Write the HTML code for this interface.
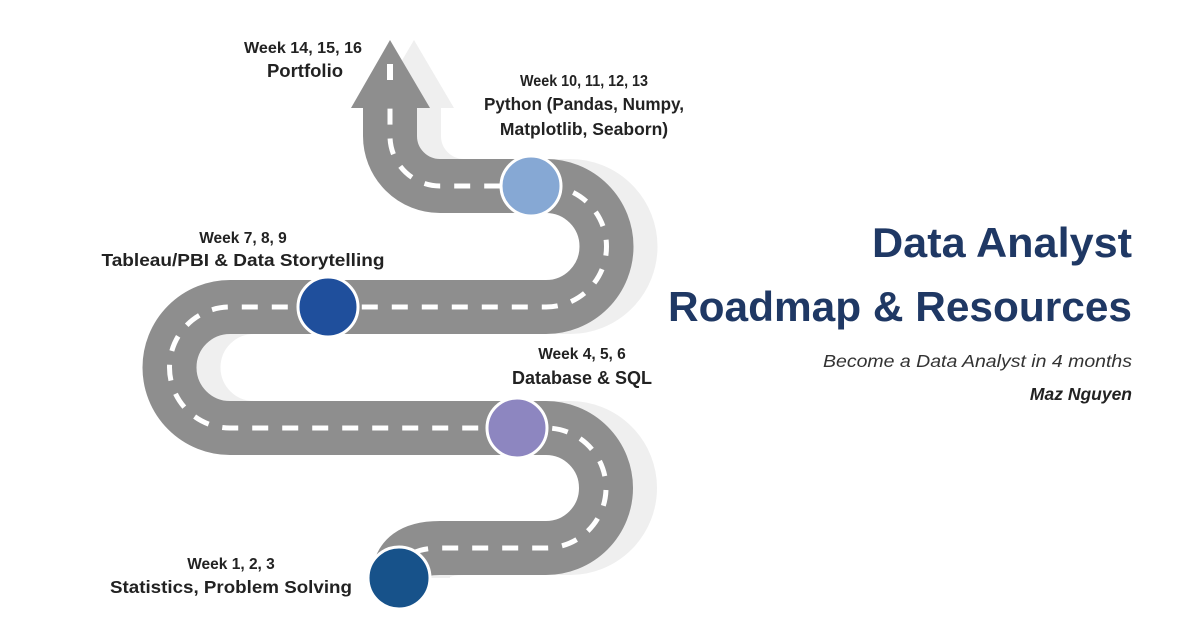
<!DOCTYPE html>
<html><head><meta charset="utf-8"><style>
html,body{margin:0;padding:0;background:#fff;}
svg{display:block;font-family:"Liberation Sans",sans-serif;}
</style></head><body>
<svg width="1200" height="630" viewBox="0 0 1200 630" xmlns="http://www.w3.org/2000/svg">
<defs>
<path id="road" d="M399 578 Q399 548 440 548 L546 548 A60 60 0 0 0 546 428 L230 428 A60.5 60.5 0 0 1 230 307 L546 307 A60.5 60.5 0 0 0 546 186 L440 186 A50 50 0 0 1 390 136 L390 105"/>
</defs>
<g transform="translate(24,0)">
<use href="#road" fill="none" stroke="#efefef" stroke-width="54"/>
<polygon points="390,40 430,108 350,108" fill="#efefef"/>
</g>
<use href="#road" fill="none" stroke="#8e8e8e" stroke-width="54"/>
<polygon points="390,40 430,108 351,108" fill="#8e8e8e"/>
<use href="#road" fill="none" stroke="#ffffff" stroke-width="5" stroke-dasharray="16 14"/>
<rect x="387" y="64" width="6" height="16" fill="#fff"/>
<circle cx="531" cy="186" r="30" fill="#86a8d4" stroke="#fff" stroke-width="3"/>
<circle cx="328" cy="307" r="30" fill="#1f4f9c" stroke="#fff" stroke-width="3"/>
<circle cx="517" cy="428" r="30" fill="#8d86c0" stroke="#fff" stroke-width="3"/>
<circle cx="399" cy="578" r="31" fill="#17528a" stroke="#fff" stroke-width="3"/>
<g fill="#222" font-weight="bold" text-anchor="middle">
<text x="303" y="53" font-size="15.5" textLength="118" lengthAdjust="spacingAndGlyphs">Week 14, 15, 16</text>
<text x="305" y="77" font-size="18.5">Portfolio</text>
<text x="584" y="86" font-size="15.5" textLength="128" lengthAdjust="spacingAndGlyphs">Week 10, 11, 12, 13</text>
<text x="584" y="110" font-size="17.5" textLength="200" lengthAdjust="spacingAndGlyphs">Python (Pandas, Numpy,</text>
<text x="584" y="135" font-size="17.5">Matplotlib, Seaborn)</text>
<text x="243" y="243" font-size="15.5">Week 7, 8, 9</text>
<text x="243" y="266" font-size="17.5" textLength="283" lengthAdjust="spacingAndGlyphs">Tableau/PBI &amp; Data Storytelling</text>
<text x="582" y="359" font-size="15.5">Week 4, 5, 6</text>
<text x="582" y="384" font-size="18">Database &amp; SQL</text>
<text x="231" y="569" font-size="15.5">Week 1, 2, 3</text>
<text x="231" y="593" font-size="17.5" textLength="242" lengthAdjust="spacingAndGlyphs">Statistics, Problem Solving</text>
</g>
<g text-anchor="end">
<text x="1132" y="257" font-size="42" font-weight="bold" fill="#1f3864" textLength="260" lengthAdjust="spacingAndGlyphs">Data Analyst</text>
<text x="1132" y="321" font-size="42" font-weight="bold" fill="#1f3864" textLength="464" lengthAdjust="spacingAndGlyphs">Roadmap &amp; Resources</text>
<text x="1132" y="367" font-size="17.5" font-style="italic" fill="#333" textLength="309" lengthAdjust="spacingAndGlyphs">Become a Data Analyst in 4 months</text>
<text x="1132" y="400" font-size="17.5" font-style="italic" font-weight="bold" fill="#222">Maz Nguyen</text>
</g>
</svg>
</body></html>
